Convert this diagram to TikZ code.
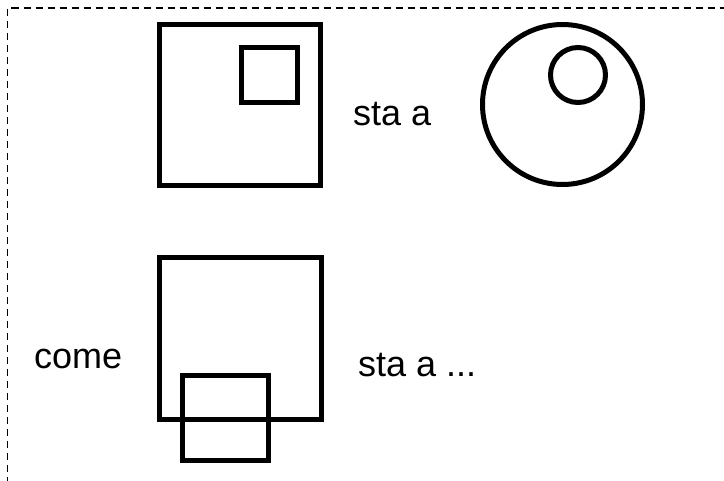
\documentclass[tikz,border=0pt]{standalone}
\usepackage{fontspec}
\setmainfont{Liberation Sans}
\begin{document}
\begin{tikzpicture}[x=1pt,y=-1pt,
  outl/.style={line width=5pt, draw=black},
  lbl/.style={font=\fontsize{36}{40}\selectfont, inner sep=0pt, anchor=base west}]
\useasboundingbox (0,0) rectangle (724,480);
\begin{scope}
\clip (0,0) rectangle (724,480);
\draw[line width=1.8pt, dash pattern=on 7pt off 5pt] (7.5,520) -- (7.5,8) -- (760,8);
\end{scope}
% top row
\draw[outl] (159.5,24.5) rectangle (320.5,185.5);
\draw[outl] (241.5,47.5) rectangle (297.5,102.5);
\node[lbl] (t1) at (353,125) {sta a};
\draw[outl] (562.5,104.5) circle (80pt);
\draw[outl] (578,75) circle (27.5pt);
% bottom row
\node[lbl] (t2) at (34,368) {come};
\draw[outl] (159.5,257.5) rectangle (321.5,419.5);
\draw[outl] (182.5,375.5) rectangle (268.5,460.5);
\node[lbl] (t3) at (358,376) {sta a ...};
\end{tikzpicture}
\end{document}
